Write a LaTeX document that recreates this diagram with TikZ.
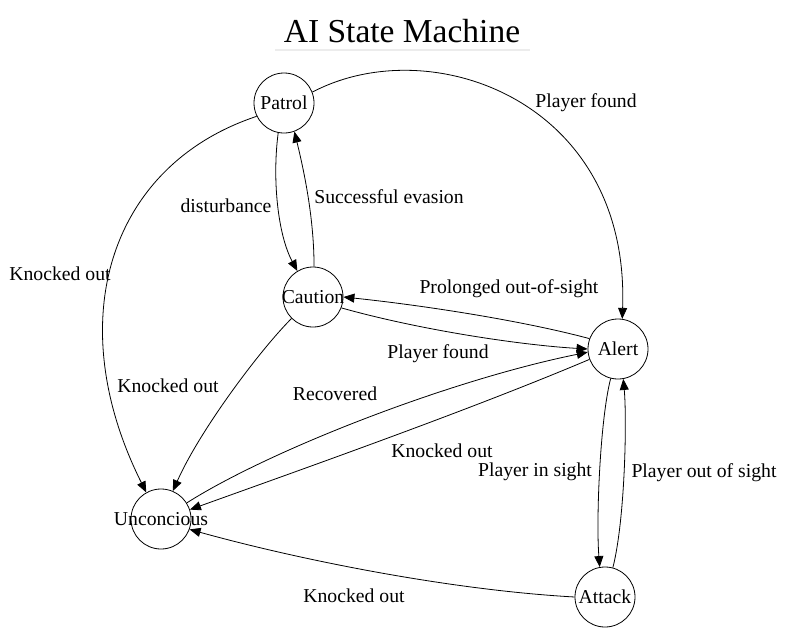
\documentclass[tikz,border=0pt]{standalone}
\usepackage{fontspec}
\setmainfont{Liberation Serif}
\usetikzlibrary{arrows.meta}
\newcommand{\stname}[1]{\makebox[0pt]{#1}}

\begin{document}
\begin{tikzpicture}[x=1pt,y=-1pt,
    state/.style={draw, circle, minimum size=60pt, inner sep=0pt, line width=0.8pt, font=\fontsize{19.7}{22}\selectfont},
    lbl/.style={inner sep=0pt, font=\fontsize{19.7}{22}\selectfont},
    trans/.style={line width=0.8pt, -{Triangle[length=11pt,width=9pt]}}]
    \useasboundingbox (0,0) rectangle (788,633);

    \node[font=\fontsize{33.5}{36}\selectfont, inner sep=0pt] (title) at (402,31) {AI State Machine};
    \coordinate (ruleL) at (275,50);
    \coordinate (ruleR) at (530,50);
    \draw[gray!15, line width=1.5pt] (ruleL) -- (ruleR);

    \node[state] (patrol) at (284,103) {\stname{Patrol}};
    \node[state] (caution) at (313,297) {\stname{Caution}};
    \node[state] (alert) at (618,349) {\stname{Alert}};
    \node[state] (uncon) at (161,519) {\stname{Unconcious}};
    \node[state] (attack) at (605,597) {\stname{Attack}};

    \draw[trans] (patrol.21) .. controls (430,30) and (630,100) .. (alert.82);
    \draw[trans] (patrol.259) .. controls (272,180) and (278,235) .. (caution.121);
    \draw[trans] (caution.88) .. controls (314,220) and (305,175) .. (patrol.-70);
    \draw[trans] (patrol.206) .. controls (110,165) and (60,320) .. (uncon.119);
    \draw[trans] (caution.225) .. controls (260,350) and (200,430) .. (uncon.67);
    \draw[trans] (caution.-21) .. controls (420,330) and (520,345) .. (alert.180);
    \draw[trans] (alert.160) .. controls (520,320) and (420,305) .. (caution.0);
    \draw[trans] (uncon.32) .. controls (270,450) and (450,380) .. (alert.186);
    \draw[trans] (alert.200) .. controls (470,410) and (300,470) .. (uncon.18);
    \draw[trans] (alert.256) .. controls (600,420) and (596,520) .. (attack.100);
    \draw[trans] (attack.75) .. controls (625,520) and (627,420) .. (alert.-80);
    \draw[trans] (attack.180) .. controls (450,590) and (300,560) .. (uncon.-20);

    \node[lbl] (lPatrolAlert) at (586,103) {Player found};
    \node[lbl] (lDisturb) at (226,206) {disturbance};
    \node[lbl] (lEvasion) at (389,197) {Successful evasion};
    \node[lbl] (lPatrolKO) at (60,274) {Knocked out};
    \node[lbl] (lCautionKO) at (168,386) {Knocked out};
    \node[lbl] (lProlonged) at (509,289) {Prolonged out-of-sight};
    \node[lbl] (lCautionAlert) at (438,354) {Player found};
    \node[lbl] (lRecovered) at (335,394) {Recovered};
    \node[lbl] (lAlertKO) at (442,451) {Knocked out};
    \node[lbl] (lInSight) at (535,472) {Player in sight};
    \node[lbl] (lOutSight) at (704,473) {Player out of sight};
    \node[lbl] (lAttackKO) at (354,596) {Knocked out};
\end{tikzpicture}
\end{document}
